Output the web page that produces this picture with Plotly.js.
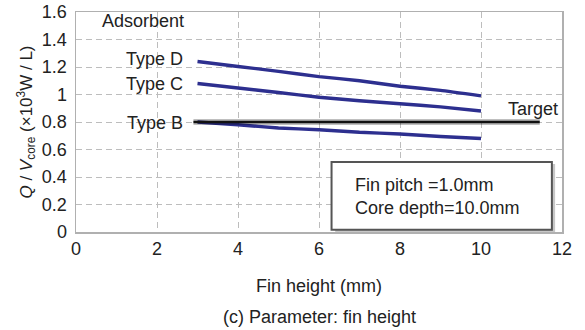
<!DOCTYPE html>
<html>
<head>
<meta charset="utf-8">
<script src="https://cdn.plot.ly/plotly-3.0.1.min.js"></script>
<style>html,body{margin:0;padding:0;background:#fff;}#chart{width:585px;height:330px;}</style>
</head>
<body>
<div id="chart"></div>
<script>
// Fin height sweep (mm) and volumetric heat output per adsorbent type
const finHeight = [3, 4, 5, 6, 7, 8, 9, 10];
const typeD = [1.24, 1.204, 1.168, 1.13, 1.10, 1.06, 1.03, 0.99];
const typeC = [1.08, 1.047, 1.015, 0.98, 0.955, 0.933, 0.91, 0.88];
const typeB = [0.80, 0.78, 0.756, 0.744, 0.725, 0.713, 0.695, 0.68];
const targetX = [2.9, 11.45];
const targetY = [0.8, 0.8];
const seriesNames = ['Type D', 'Type C', 'Type B'];
const xTicks = [0, 2, 4, 6, 8, 10, 12];
const yTicks = [0, 0.2, 0.4, 0.6, 0.8, 1, 1.2, 1.4, 1.6];
const yTickText = ['0', '0.2', '0.4', '0.6', '0.8', '1', '1.2', '1.4', '1.6'];

const font = 'Liberation Sans, Arial, sans-serif';
const fs = 18;
const ink = '#222';
const blue = '#2d2f8f';

const traces = [typeD, typeC, typeB].map((ys, i) => ({
  x: finHeight, y: ys, name: seriesNames[i], mode: 'lines',
  line: {color: blue, width: 3.4, shape: 'spline', smoothing: 0.4}
}));
// soft shadow under the target line, then the line itself
traces.push({x: targetX, y: targetY, mode: 'lines', hoverinfo: 'skip',
  line: {color: 'rgba(0,0,0,0.25)', width: 6}});
traces.push({x: targetX, y: targetY, name: 'Target', mode: 'lines',
  line: {color: '#111', width: 2.4}});

const annotations = [
  {x: 0.6, y: 1.537, text: 'Adsorbent', xanchor: 'left'},
  {x: 2.7, y: typeD[0] + 0.02, text: 'Type D', xanchor: 'right'},
  {x: 2.7, y: typeC[0] + 0.0, text: 'Type C', xanchor: 'right'},
  {x: 2.7, y: typeB[0] - 0.01, text: 'Type B', xanchor: 'right'},
  {x: 10.62, y: 0.895, text: 'Target', xanchor: 'left'},
  {x: 6.85, y: 0.255, text: 'Fin pitch =1.0mm<br>Core depth=10.0mm', xanchor: 'left', align: 'left'}
].map(a => Object.assign({xref: 'x', yref: 'y', showarrow: false, yanchor: 'middle',
  font: {family: font, size: fs, color: ink}}, a));

// axis title and caption below the plot
annotations.push({xref: 'paper', yref: 'paper', x: 0.5, y: -0.245, yanchor: 'middle',
  text: 'Fin height (mm)', showarrow: false, font: {family: font, size: fs, color: ink}});
annotations.push({xref: 'paper', yref: 'paper', x: 0.5, y: -0.385, yanchor: 'middle',
  text: '(c) Parameter: fin height', showarrow: false, font: {family: font, size: fs, color: ink}});

const axisCommon = {
  ticks: '', showgrid: true, gridcolor: '#bdbdbd', griddash: '6px,4px', gridwidth: 1,
  zeroline: false, showline: true, linecolor: '#b0b0b0', linewidth: 1.5, mirror: true,
  tickfont: {family: font, size: fs, color: ink}
};

const layout = {
  width: 585, height: 330,
  margin: {l: 76, r: 23, t: 12, b: 98},
  paper_bgcolor: '#fff', plot_bgcolor: '#fff',
  showlegend: false,
  font: {family: font, size: fs, color: ink},
  xaxis: Object.assign({}, axisCommon, {range: [0, 12], tickvals: xTicks, ticklabelstandoff: 0}),
  yaxis: Object.assign({}, axisCommon, {
    range: [0, 1.6], tickvals: yTicks, ticktext: yTickText, ticklabelstandoff: 4,
    title: {text: '<i>Q</i> / <i>V</i><sub>core</sub> (×10<sup>3</sup>W / L)', standoff: 5,
      font: {family: font, size: 17, color: ink}}
  }),
  shapes: [
    // parameter box with a grey drop shadow
    {type: 'rect', xref: 'x', yref: 'y', x0: 6.4, x1: 11.83, y0: 0.0, y1: 0.495,
      line: {width: 0}, fillcolor: 'rgba(0,0,0,0.22)', layer: 'below'},
    {type: 'rect', xref: 'x', yref: 'y', x0: 6.31, x1: 11.75, y0: 0.017, y1: 0.51,
      line: {color: '#555', width: 2}, fillcolor: '#fff', layer: 'above'}
  ],
  annotations: annotations
};

Plotly.newPlot('chart', traces, layout, {staticPlot: true, displayModeBar: false});
</script>
</body>
</html>
